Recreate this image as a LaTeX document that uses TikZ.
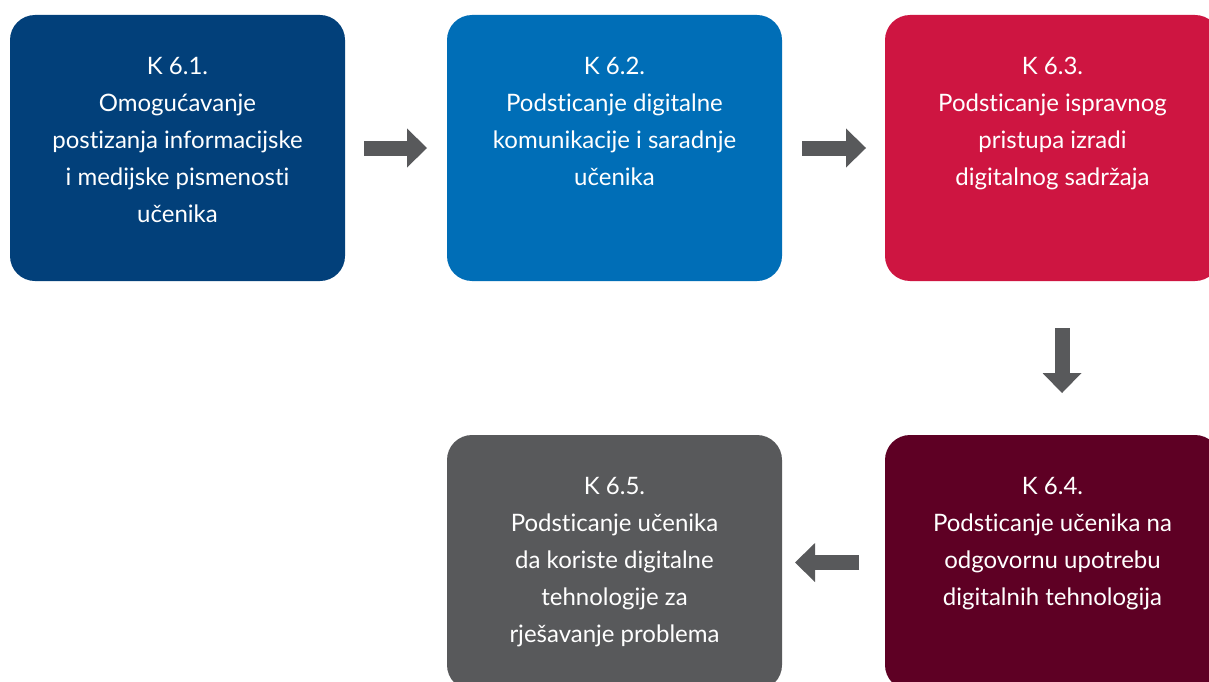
\documentclass[tikz,border=0pt]{standalone}
\usepackage{fontspec}
\setmainfont{Lato}[Ligatures={NoCommon}]
\usetikzlibrary{arrows.meta}
\definecolor{cA}{HTML}{02407A}
\definecolor{cB}{HTML}{006EB7}
\definecolor{cC}{HTML}{CE1541}
\definecolor{cD}{HTML}{5E0024}
\definecolor{cE}{HTML}{58595B}
\definecolor{cArr}{HTML}{58595B}
\begin{document}
\begin{tikzpicture}[x=1pt,y=-1pt,
  card/.style={rounded corners=25pt,minimum width=335pt,inner sep=0pt,outer sep=0pt},
  topcard/.style={card,minimum height=266pt},
  lowcard/.style={card,minimum height=255pt},
  cardtext/.style={text=white,anchor=north,align=center,inner sep=0pt,font=\fontsize{24}{37}\selectfont},
  flow/.style={cArr,line width=15pt,-{Triangle[length=20pt,width=39pt,line width=0pt]}}]
\useasboundingbox (0,0) rectangle (1209,682);
\fill[white] (0,0) rectangle (1209,682);
% boxes
\node[topcard,fill=cA] (b1) at (177.5,148) {};
\node[topcard,fill=cB] (b2) at (614.5,148) {};
\node[topcard,fill=cC] (b3) at (1052.5,148) {};
\node[lowcard,fill=cD] (b4) at (1052.5,562.5) {};
\node[lowcard,fill=cE] (b5) at (614.5,562.5) {};
% texts
\node[cardtext] (t1) at (177.5,57) {K 6.1.\\Omogućavanje\\postizanja informacijske\\i medijske pismenosti\\učenika};
\node[cardtext] (t2) at (614.5,57) {K 6.2.\\Podsticanje digitalne\\komunikacije i saradnje\\učenika};
\node[cardtext] (t3) at (1052.5,57) {K 6.3.\\Podsticanje ispravnog\\pristupa izradi\\digitalnog sadržaja};
\node[cardtext] (t4) at (1052.5,477) {K 6.4.\\Podsticanje učenika na\\odgovornu upotrebu\\digitalnih tehnologija};
\node[cardtext] (t5) at (614.5,477) {K 6.5.\\Podsticanje učenika\\da koriste digitalne\\tehnologije za\\rješavanje problema};
% arrows
\draw[flow,shorten <=19pt,shorten >=20pt] (b1.east) -- (b2.west);
\draw[flow,shorten <=20pt,shorten >=19pt] (b2.east) -- (b3.west);
\draw[flow,shorten <=47pt,shorten >=42pt] ([xshift=9.5pt]b3.south) -- ([xshift=9.5pt]b4.north);
\draw[flow,shorten <=26pt,shorten >=13pt] (b4.west) -- (b5.east);
\end{tikzpicture}
\end{document}
